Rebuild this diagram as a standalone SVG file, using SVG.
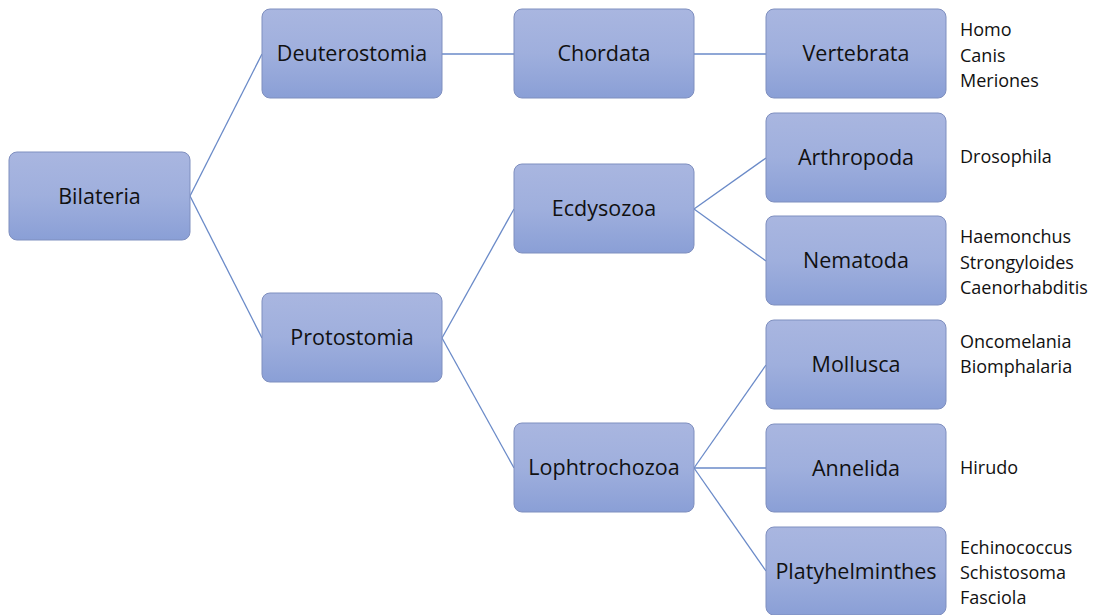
<svg xmlns="http://www.w3.org/2000/svg" width="1097" height="615" viewBox="0 0 1097 615">
<defs>
<linearGradient id="g" x1="0" y1="0" x2="0" y2="1">
<stop offset="0" stop-color="#a9b6e0"/>
<stop offset="0.5" stop-color="#9fafdd"/>
<stop offset="1" stop-color="#8a9fd6"/>
</linearGradient>
</defs>
<style>
.box{fill:url(#g);stroke:#7f8fbf;stroke-width:1}
.lbl{font-family:"Open Sans","Liberation Sans",sans-serif;font-size:21.5px;fill:#111;text-anchor:middle}
.sp{font-family:"Open Sans","Liberation Sans",sans-serif;font-size:18px;fill:#111}
.c{stroke:#6a8ac8;stroke-width:1.3;fill:none}
</style>
<rect width="1097" height="615" fill="#fff"/>
<g id="connectors">
<path class="c" d="M190,196 L262,54"/>
<path class="c" d="M190,196 L262,338"/>
<path class="c" d="M442,54 L514,54"/>
<path class="c" d="M694,54 L766,54"/>
<path class="c" d="M442,338 L514,209"/>
<path class="c" d="M442,338 L514,468"/>
<path class="c" d="M694,209 L766,158"/>
<path class="c" d="M694,209 L766,261"/>
<path class="c" d="M694,468 L766,365"/>
<path class="c" d="M694,468 L766,468"/>
<path class="c" d="M694,468 L766,571"/>
</g>
<g id="bilateria"><rect class="box" x="9" y="152" width="181" height="88" rx="8"/><text class="lbl" x="99.5" y="203.5">Bilateria</text></g>
<g id="deuterostomia"><rect class="box" x="262" y="9" width="180" height="89" rx="8"/><text class="lbl" x="352" y="61">Deuterostomia</text></g>
<g id="chordata"><rect class="box" x="514" y="9" width="180" height="89" rx="8"/><text class="lbl" x="604" y="61">Chordata</text></g>
<g id="vertebrata"><rect class="box" x="766" y="9" width="180" height="89" rx="8"/><text class="lbl" x="856" y="61">Vertebrata</text></g>
<g id="protostomia"><rect class="box" x="262" y="293" width="180" height="89" rx="8"/><text class="lbl" x="352" y="345">Protostomia</text></g>
<g id="ecdysozoa"><rect class="box" x="514" y="164" width="180" height="89" rx="8"/><text class="lbl" x="604" y="216">Ecdysozoa</text></g>
<g id="lophtrochozoa"><rect class="box" x="514" y="423" width="180" height="89" rx="8"/><text class="lbl" x="604" y="475">Lophtrochozoa</text></g>
<g id="arthropoda"><rect class="box" x="766" y="113" width="180" height="89" rx="8"/><text class="lbl" x="856" y="165">Arthropoda</text></g>
<g id="nematoda"><rect class="box" x="766" y="216" width="180" height="89" rx="8"/><text class="lbl" x="856" y="268">Nematoda</text></g>
<g id="mollusca"><rect class="box" x="766" y="320" width="180" height="89" rx="8"/><text class="lbl" x="856" y="372">Mollusca</text></g>
<g id="annelida"><rect class="box" x="766" y="424" width="180" height="88" rx="8"/><text class="lbl" x="856" y="475.5">Annelida</text></g>
<g id="platyhelminthes"><rect class="box" x="766" y="527" width="180" height="88" rx="8"/><text class="lbl" x="856" y="578.5">Platyhelminthes</text></g>
<g id="species">
<text class="sp" x="960" y="36">Homo</text>
<text class="sp" x="960" y="62">Canis</text>
<text class="sp" x="960" y="87">Meriones</text>
<text class="sp" x="960" y="163">Drosophila</text>
<text class="sp" x="960" y="243">Haemonchus</text>
<text class="sp" x="960" y="269">Strongyloides</text>
<text class="sp" x="960" y="294">Caenorhabditis</text>
<text class="sp" x="960" y="348">Oncomelania</text>
<text class="sp" x="960" y="373">Biomphalaria</text>
<text class="sp" x="960" y="474">Hirudo</text>
<text class="sp" x="960" y="554">Echinococcus</text>
<text class="sp" x="960" y="579">Schistosoma</text>
<text class="sp" x="960" y="604">Fasciola</text>
</g>
</svg>
